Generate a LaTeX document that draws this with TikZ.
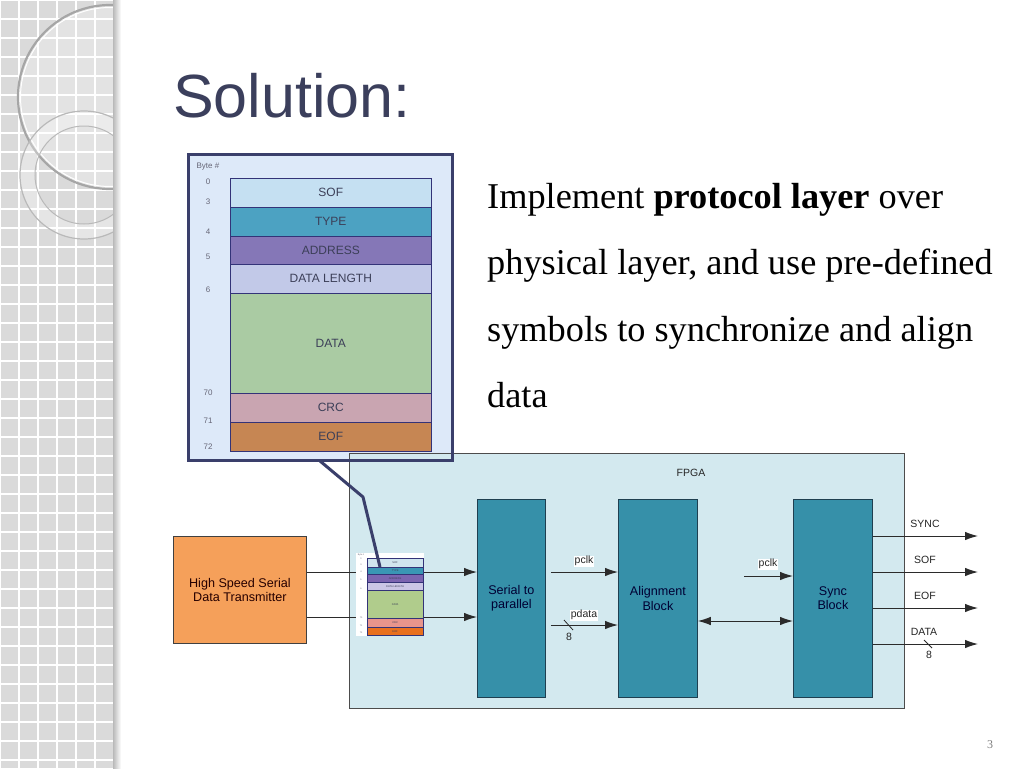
\documentclass[tikz,border=0pt]{standalone}
\usepackage{fontspec}
\setmainfont{Liberation Serif}
\newfontfamily\arial{Liberation Sans}
\usetikzlibrary{arrows.meta,calc}
\definecolor{navy}{HTML}{3A3F6B}
\definecolor{zoomfill}{HTML}{DDE9F9}
\definecolor{fpgafill}{HTML}{D3E9EF}
\definecolor{tealblk}{HTML}{3690A9}
\definecolor{tealedge}{HTML}{1F3F50}
\definecolor{orangebox}{HTML}{F5A05A}
\definecolor{linecol}{HTML}{2B2B2B}
\definecolor{labcol}{HTML}{3C3F58}
\definecolor{bytecol}{HTML}{666677}
\definecolor{titlecol}{HTML}{3B3F5C}
\definecolor{stripcol}{HTML}{DADADA}
\definecolor{cSOF}{HTML}{C5E0F2}
\definecolor{cTYPE}{HTML}{4CA2C2}
\definecolor{cADDR}{HTML}{8577B7}
\definecolor{cDL}{HTML}{C2C9E8}
\definecolor{cDATA}{HTML}{AACBA3}
\definecolor{cCRC}{HTML}{C9A5B1}
\definecolor{cEOF}{HTML}{C68653}
\definecolor{sSOF}{HTML}{D0E5EE}
\definecolor{sTYPE}{HTML}{3A96B4}
\definecolor{sADDR}{HTML}{7B64B0}
\definecolor{sDL}{HTML}{CBC6E6}
\definecolor{sDATA}{HTML}{B0CC8C}
\definecolor{sCRC}{HTML}{E8958C}
\definecolor{sEOF}{HTML}{E8701E}
\tikzset{
  layer/.style={draw=layerline, line width=0.6pt, minimum width=201, inner sep=0, anchor=north west,
     font=\arial\fontsize{12}{12}\selectfont, text=labcol},
  slayer/.style={draw=layerline, line width=0.3pt, minimum width=56, inner sep=0, anchor=north west,
     font=\arial\fontsize{2.6}{2.6}\selectfont, text=labcol},
  bytenum/.style={font=\arial\fontsize{8}{8}\selectfont, text=bytecol, inner sep=0},
  sbytenum/.style={font=\arial\fontsize{2.2}{2.2}\selectfont, text=bytecol, inner sep=0},
  blockbox/.style={draw=tealedge, line width=0.8pt, fill=tealblk, minimum width=68, minimum height=198,
     inner sep=0, anchor=north west, align=center, text=black!80!blue,
     font=\arial\fontsize{12.6}{14.5}\selectfont},
  arr/.style={draw=linecol, line width=1pt, -{Latex[length=13pt,width=8.5pt]}},
  darr/.style={draw=linecol, line width=1pt, {Latex[length=13pt,width=8.5pt]}-{Latex[length=13pt,width=8.5pt]}},
  sig/.style={font=\arial\fontsize{10.5}{10.5}\selectfont, inner sep=0.6pt, text=black!85},
  wsig/.style={sig, fill=white},
  body/.style={anchor=base west, font=\fontsize{36.3}{36.3}\selectfont, inner sep=0},
}
\colorlet{layerline}{black!55!blue!60!gray}
\begin{document}
\begin{tikzpicture}[x=1pt,y=-1pt]
\useasboundingbox (0,0) rectangle (1024,768);
\fill[white] (0,0) rectangle (1024,768);
% ---- left decorative strip ----
\fill[stripcol] (0,0) rectangle (113,768);
\foreach \x in {0,19,...,113} {\draw[white, line width=1.2pt] (\x,0) -- (\x,768);}
\foreach \y in {0,19,...,768} {\draw[white, line width=1.2pt] (0,\y) -- (113,\y);}
\begin{scope}
\clip (0,0) rectangle (113,768);
\fill[white, opacity=0.25] (110,97) circle (92);
\draw[gray!70, line width=2.2pt] (110,97) circle (92);
\draw[white, line width=1pt] (110,97) circle (89.5);
\fill[white, opacity=0.3, even odd rule] (84,175) circle (64) (84,175) circle (49);
\draw[gray!55, line width=1.2pt] (84,175) circle (64);
\draw[gray!55, line width=1pt] (84,175) circle (49);
\end{scope}
\shade[left color=gray!55, right color=white] (113,0) rectangle (121,768);
% ---- title ----
\node (title) [anchor=base west, inner sep=0, text=titlecol, font=\arial\fontsize{61}{61}\selectfont] at (173,117) {Solution:};
% ---- body text ----
\node (l1) [body] at (487,208) {Implement \textbf{protocol layer} over};
\node (l2) [body] at (487,274) {physical layer, and use pre-defined};
\node (l3) [body] at (487,341) {symbols to synchronize and align};
\node (l4) [body] at (487,407) {data};
% ---- zoom box fill ----
\fill[zoomfill] (188,154) rectangle (452,460);
% ---- FPGA box ----
\node (fpga) [draw=black!70, line width=0.8pt, fill=fpgafill, minimum width=555, minimum height=255,
   inner sep=0, anchor=north west] at (349,453) {};
\node (fpgalab) [sig] at (691,473) {FPGA};
% ---- zoom box border ----
\draw[navy, line width=3pt] (188,154) rectangle (452,460);
% ---- big packet ----
\node (bSOF) [layer, fill=cSOF, minimum height=29] at (230,178) {SOF};
\node (bTYPE) [layer, fill=cTYPE, minimum height=29] at (230,207) {TYPE};
\node (bADDR) [layer, fill=cADDR, minimum height=28] at (230,236) {ADDRESS};
\node (bDL) [layer, fill=cDL, minimum height=29] at (230,264) {DATA LENGTH};
\node (bDATA) [layer, fill=cDATA, minimum height=100] at (230,293) {DATA};
\node (bCRC) [layer, fill=cCRC, minimum height=29] at (230,393) {CRC};
\node (bEOF) [layer, fill=cEOF, minimum height=29] at (230,422) {EOF};
\node (byte) [bytenum] at (208,167) {Byte \#};
\node (b0) [bytenum] at (208,182) {0};
\node (b3) [bytenum] at (208,202) {3};
\node (b4) [bytenum] at (208,232) {4};
\node (b5) [bytenum] at (208,257) {5};
\node (b6) [bytenum] at (208,290) {6};
\node (b70) [bytenum] at (208,393) {70};
\node (b71) [bytenum] at (208,421) {71};
\node (b72) [bytenum] at (208,447) {72};
% ---- transmitter ----
\node (tx) [draw=black!75, line width=0.8pt, fill=orangebox, minimum width=133, minimum height=107,
   inner sep=0, anchor=north west, align=center, text=black!85!red,
   font=\arial\fontsize{12.6}{14.5}\selectfont] at (173,536) {High Speed Serial\\ Data Transmitter};
% ---- blocks ----
\node (s2p) [blockbox] at (477,499) {Serial to\\parallel};
\node (align) [blockbox, minimum width=79] at (618,499) {Alignment\\Block};
\node (sync) [blockbox, minimum width=79] at (793,499) {Sync\\Block};
% ---- tx to s2p ----
\draw[arr] (tx.east |- 0,572) -- (s2p.west |- 0,572);
\draw[arr] (tx.east |- 0,617) -- (s2p.west |- 0,617);
% ---- small packet (on top of lines) ----
\node (spk) [fill=white, minimum width=68, minimum height=83, inner sep=0, anchor=north west] at (356,553) {};
\node (sSOF) [slayer, fill=sSOF, minimum height=9] at (367,558) {SOF};
\node (sTYPE) [slayer, fill=sTYPE, minimum height=7] at (367,567) {TYPE};
\node (sADDR) [slayer, fill=sADDR, minimum height=8] at (367,574) {ADDRESS};
\node (sDL) [slayer, fill=sDL, minimum height=8] at (367,582) {DATA LENGTH};
\node (sDATA) [slayer, fill=sDATA, minimum height=28] at (367,590) {DATA};
\node (sCRC) [slayer, fill=sCRC, minimum height=9] at (367,618) {CRC};
\node (sEOF) [slayer, fill=sEOF, minimum height=8] at (367,627) {EOF};
\node (sbyte) [sbytenum] at (361,555) {Byte \#};
\node (sb0) [sbytenum] at (361,559) {0};
\node (sb3) [sbytenum] at (361,565) {3};
\node (sb4) [sbytenum] at (361,572) {4};
\node (sb5) [sbytenum] at (361,580) {5};
\node (sb6) [sbytenum] at (361,589) {6};
\node (sb70) [sbytenum] at (361,618) {70};
\node (sb71) [sbytenum] at (361,626) {71};
\node (sb72) [sbytenum] at (361,633) {72};
% ---- callout line ----
\coordinate (co1) at (320,461);
\coordinate (co2) at (363,497);
\draw[navy, line width=3pt, line join=round] (co1) -- (co2) -- (sTYPE.north west -| 380,565);
% ---- s2p to align ----
\draw[arr] ($(s2p.east |- 0,572)+(5,0)$) -- (align.west |- 0,572);
\node (pclk1) [wsig] at (584,561) {pclk};
\draw[arr] ($(s2p.east |- 0,625)+(5,0)$) -- (align.west |- 0,625);
\node (pdata) [wsig] at (584,615) {pdata};
\coordinate (sl1a) at (564,620);
\coordinate (sl1b) at (573,630);
\draw[linecol, line width=0.8pt] (sl1a) -- (sl1b);
\node (n8a) [sig] at (569,637) {8};
% ---- align <-> sync ----
\draw[darr] (align.east |- 0,621) -- (sync.west |- 0,621);
\coordinate (pclk2s) at (744,576);
\draw[arr] (pclk2s) -- (sync.west |- pclk2s);
\node (pclk2) [wsig] at (768,564) {pclk};
% ---- outputs ----
\coordinate (o1) at (978,536);
\coordinate (o2) at (978,572);
\coordinate (o3) at (978,608);
\coordinate (o4) at (978,644);
\draw[arr] (sync.east |- o1) -- (o1);
\draw[arr] (sync.east |- o2) -- (o2);
\draw[arr] (sync.east |- o3) -- (o3);
\draw[arr] (sync.east |- o4) -- (o4);
\node (lsync) [sig] at (925,524) {SYNC};
\node (lsof) [sig] at (925,560) {SOF};
\node (leof) [sig] at (925,596) {EOF};
\node (ldata) [sig] at (924,632) {DATA};
\coordinate (sl2a) at (924,640);
\coordinate (sl2b) at (932,648);
\draw[linecol, line width=0.8pt] (sl2a) -- (sl2b);
\node (n8b) [sig] at (929,655) {8};
% ---- page number ----
\node (page) [text=gray, font=\fontsize{12}{12}\selectfont, inner sep=0] at (990,745) {3};
\end{tikzpicture}
\end{document}
